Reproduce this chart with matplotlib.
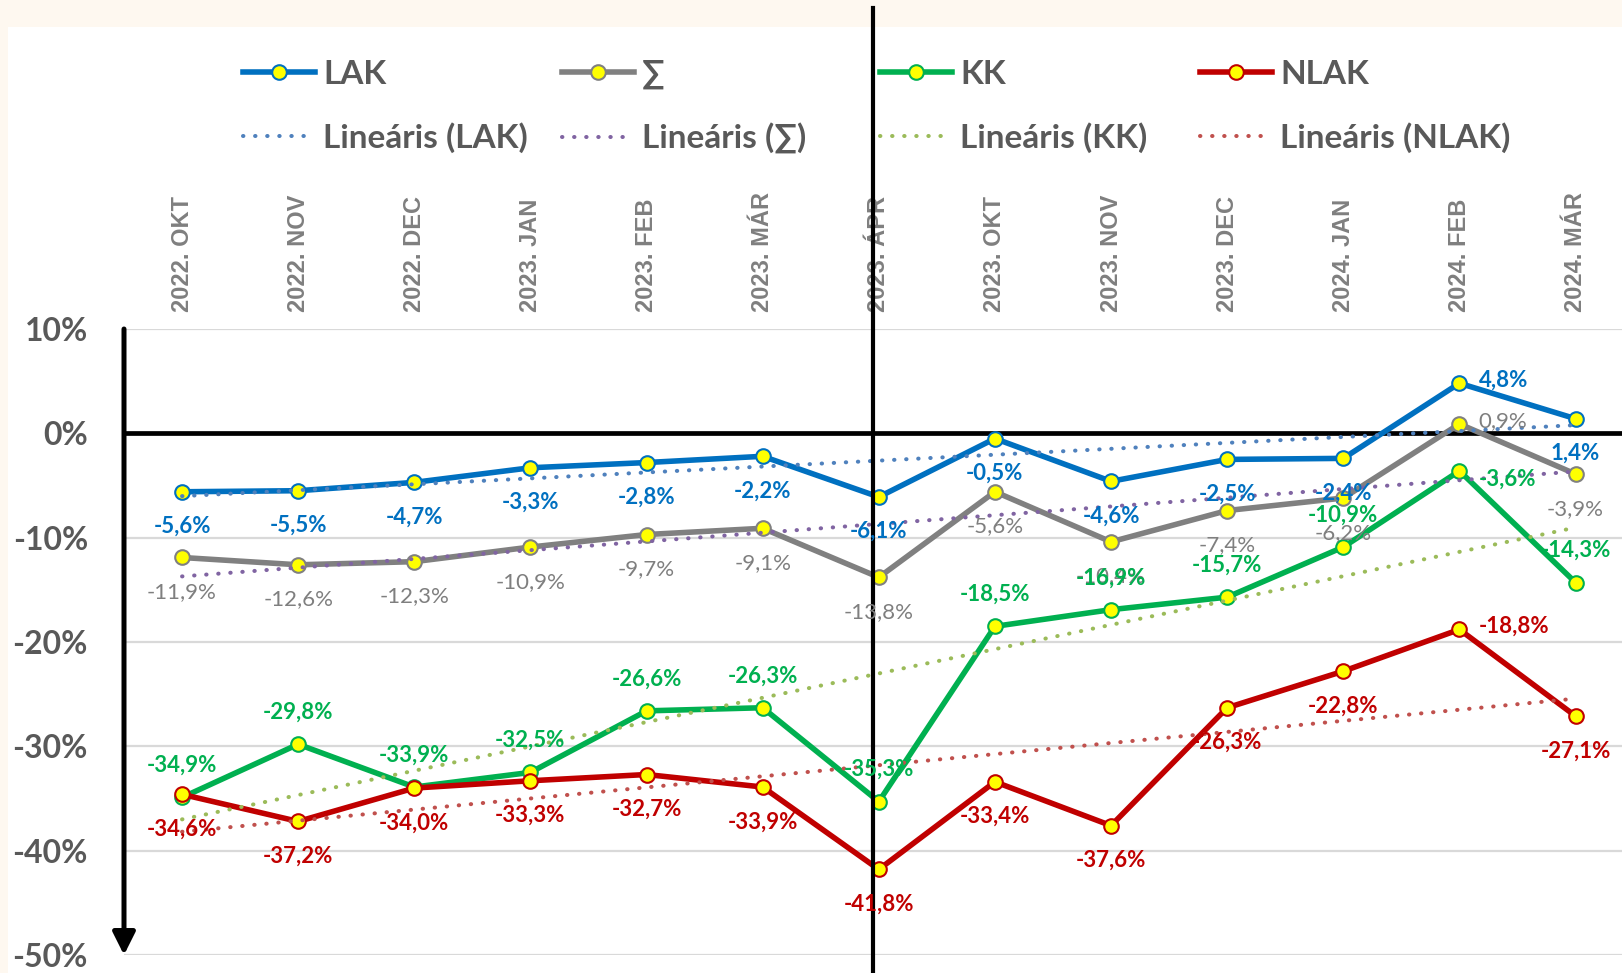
import numpy as np
import matplotlib
matplotlib.use("Agg")
import matplotlib.pyplot as plt
from matplotlib.lines import Line2D
from matplotlib.patches import Rectangle
import matplotlib.transforms as mtransforms

# ---- data -------------------------------------------------------------
categories = ["2022. OKT", "2022. NOV", "2022. DEC", "2023. JAN", "2023. FEB",
              "2023. MÁR", "2023. ÁPR", "2023. OKT", "2023. NOV", "2023. DEC",
              "2024. JAN", "2024. FEB", "2024. MÁR"]
lak = [-5.6, -5.5, -4.7, -3.3, -2.8, -2.2, -6.1, -0.5, -4.6, -2.5, -2.4, 4.8, 1.4]
total = [-11.9, -12.6, -12.3, -10.9, -9.7, -9.1, -13.8, -5.6, -10.4, -7.4, -6.2, 0.9, -3.9]
kk = [-34.9, -29.8, -33.9, -32.5, -26.6, -26.3, -35.3, -18.5, -16.9, -15.7, -10.9, -3.6, -14.3]
nlak = [-34.6, -37.2, -34.0, -33.3, -32.7, -33.9, -41.8, -33.4, -37.6, -26.3, -22.8, -18.8, -27.1]
y_ticks = [10, 0, -10, -20, -30, -40, -50]

FONT = ["Lato", "DejaVu Sans"]
plt.rcParams["font.family"] = FONT

W, H, DPI = 1622, 973, 100
fig = plt.figure(figsize=(W / DPI, H / DPI), dpi=DPI, facecolor="#FEF8F0")
# white chart panel
fig.patches.append(Rectangle((8 / W, 0), 1, 1 - 27 / H, transform=fig.transFigure,
                             facecolor="white", edgecolor="none", zorder=-10))

ax = fig.add_axes([124 / W, (H - 955) / H, 1 - 124 / W, (955 - 329) / H])
ax.set_facecolor("none")
x = np.arange(len(categories))
ax.set_xlim(-0.5, 12.40)
ax.set_ylim(-50, 10)

for s in ax.spines.values():
    s.set_visible(False)

# gridlines
for yv in y_ticks:
    if yv != 0:
        ax.axhline(yv, color="#D9D9D9", lw=1.6, zorder=1)
ax.axhline(0, color="black", lw=3.4, zorder=2)

# category labels on top
ax.set_xticks(x)
ax.set_xticklabels(categories, rotation=90, family=["Liberation Sans", "DejaVu Sans"],
                   fontweight="bold", fontsize=17, color="#7F7F7F")
ax.tick_params(axis="x", top=True, labeltop=True, bottom=False, labelbottom=False,
               length=0, pad=12)
ax.set_yticks(y_ticks)
ax.set_yticklabels([f"{v}%" for v in y_ticks], fontsize=23, fontweight="bold",
                   color="#595959")
ax.tick_params(axis="y", length=0, pad=26)

# y axis as a downward arrow
ax.annotate("", xy=(-0.5, -50), xytext=(-0.5, 10),
            arrowprops=dict(arrowstyle="-|>", lw=3.6, color="black",
                            mutation_scale=34, shrinkA=0, shrinkB=0),
            annotation_clip=False, zorder=6)

# vertical divider
trans = mtransforms.blended_transform_factory(ax.transData, fig.transFigure)
ax.add_line(Line2D([5.95, 5.95], [0, 1 - 8 / H], transform=trans, color="black",
                   lw=3.0, zorder=7, clip_on=False))

series = [
    ("LAK", lak, "#0070C0", "#4F81BD", "bold", "below"),
    ("∑", total, "#808080", "#8064A2", "normal", "below"),
    ("KK", kk, "#00B050", "#9BBB59", "bold", "above"),
    ("NLAK", nlak, "#C00000", "#C0504D", "bold", "below"),
]
label_colors = {"LAK": "#0070C0", "∑": "#7F7F7F", "KK": "#00B050", "NLAK": "#C00000"}

dot_style = (0, (0.1, 2.9))
legend_cols = []
for i, (name, vals, col, tcol, weight, pos) in enumerate(series):
    vals = np.asarray(vals)
    line, = ax.plot(x, vals, color=col, lw=4.0, marker="o", ms=10.5,
                    markerfacecolor="#FFFF00", markeredgecolor=col, mew=1.5,
                    zorder=4 + i * 0.1, clip_on=False)
    coef = np.polyfit(x, vals, 1)
    trend, = ax.plot(x, np.polyval(coef, x), color=tcol, lw=2.9, linestyle=dot_style,
                     dash_capstyle="round", zorder=5)
    legend_cols.append((line, f"{name}", trend, f"Lineáris ({name})"))
    for xi, v in zip(x, vals):
        txt = f"{v:.1f}%".replace(".", ",")
        if xi == 11:
            off, ha, va = (14, 2 if name != "KK" else -6), "left", "center"
        elif pos == "below":
            off, ha, va = (0, -25), "center", "center"
        else:
            off, ha, va = (0, 23), "center", "center"
        ax.annotate(txt, (xi, v), xytext=off, textcoords="offset points",
                    ha=ha, va=va, fontsize=16, fontweight=weight,
                    color=label_colors[name], zorder=8, annotation_clip=False)

# legend: four columns, two rows
col_x = [243, 562, 880, 1200]
for cx, (l1, t1, l2, t2) in zip(col_x, legend_cols):
    leg = fig.legend([l1, l2], [t1, t2], loc="upper left",
                     bbox_to_anchor=(cx / W, 1 - 60 / H), frameon=False,
                     prop=dict(family=FONT, weight="bold", size=24),
                     labelcolor="#595959", handlelength=2.15, handletextpad=0.25,
                     labelspacing=1.0, borderpad=0, borderaxespad=0,
                     numpoints=1, markerscale=1.0)

fig.savefig("out.png", dpi=DPI, facecolor=fig.get_facecolor())
